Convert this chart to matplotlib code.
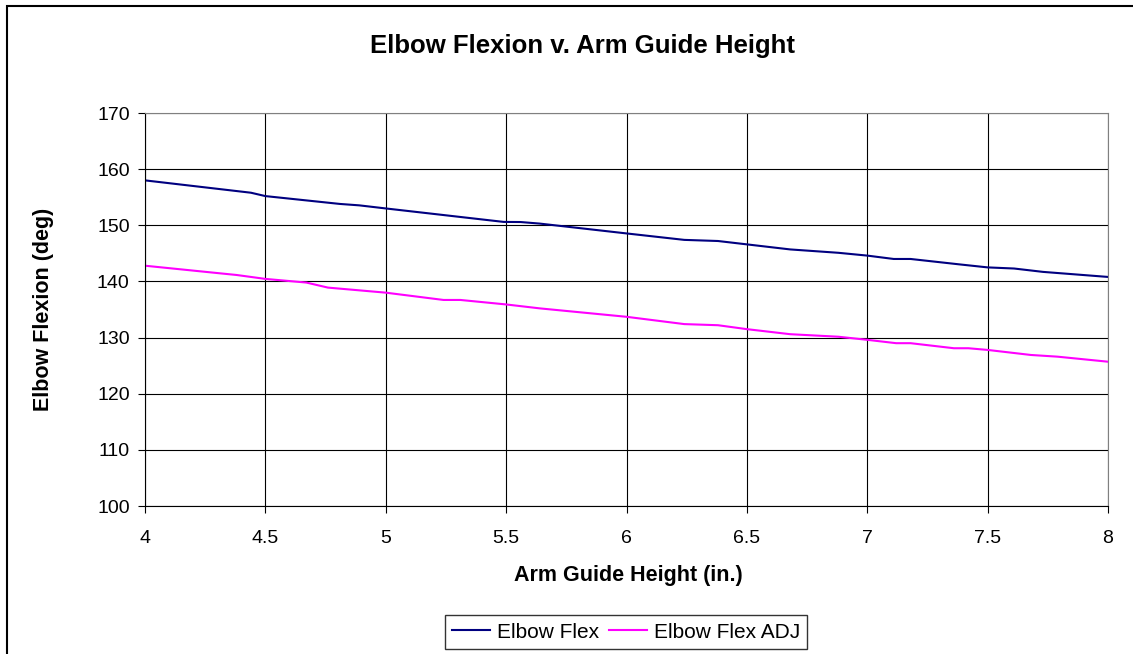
import matplotlib.pyplot as plt
from matplotlib.patches import Rectangle

plt.rcParams['font.family'] = ['Liberation Sans', 'DejaVu Sans']

# Elbow Flex (blue)
flex_x = [4.0, 4.44, 4.5, 4.81, 4.89, 5.0, 5.49, 5.56, 5.64, 6.0, 6.24, 6.38,
          6.5, 6.68, 6.88, 7.0, 7.11, 7.18, 7.38, 7.5, 7.61, 7.73, 8.0]
flex_y = [158.0, 155.8, 155.2, 153.8, 153.55, 153.0, 150.6, 150.58, 150.3, 148.55,
          147.4, 147.2, 146.6, 145.7, 145.1, 144.6, 144.0, 144.0, 143.05, 142.5,
          142.3, 141.7, 140.8]

# Elbow Flex ADJ (magenta)
adj_x = [4.0, 4.31, 4.38, 4.5, 4.67, 4.76, 4.84, 5.0, 5.24, 5.31, 5.5, 5.64,
         6.0, 6.24, 6.38, 6.5, 6.68, 6.88, 7.0, 7.12, 7.18, 7.36, 7.42, 7.5,
         7.68, 7.79, 8.0]
adj_y = [142.8, 141.45, 141.15, 140.45, 139.8, 138.9, 138.6, 138.0, 136.7, 136.7,
         135.9, 135.2, 133.7, 132.4, 132.2, 131.5, 130.6, 130.15, 129.6, 129.0,
         129.0, 128.1, 128.1, 127.8, 126.9, 126.6, 125.7]

xticks = [4, 4.5, 5, 5.5, 6, 6.5, 7, 7.5, 8]
xticklabels = ['4', '4.5', '5', '5.5', '6', '6.5', '7', '7.5', '8']
yticks = [100, 110, 120, 130, 140, 150, 160, 170]

W, H = 1133, 654
fig = plt.figure(figsize=(W / 100, H / 100), dpi=100)
ax = fig.add_axes([145/W, 1 - 506/H, (1108 - 145)/W, (506 - 113)/H])

# outer chart frame (right/bottom edges run off the image)
fig.patches.append(Rectangle((7/W, -0.05), 1.1, 1 - 6/H + 0.05,
                             transform=fig.transFigure, fill=False,
                             edgecolor='black', linewidth=1.5))

ax.plot(flex_x, flex_y, color='#000080', lw=1.5, label='Elbow Flex')
ax.plot(adj_x, adj_y, color='#FF00FF', lw=1.5, label='Elbow Flex ADJ')

ax.set_xlim(4, 8)
ax.set_ylim(100, 170)
ax.set_xticks(xticks)
ax.set_xticklabels(xticklabels)
ax.set_yticks(yticks)
ax.grid(True, color='#000000', lw=0.8)
ax.set_axisbelow(True)
ax.tick_params(direction='out', length=5, width=0.8, labelsize=14)
ax.tick_params(axis='x', pad=12)
ax.tick_params(axis='y', pad=6)
for s in ['top', 'right']:
    ax.spines[s].set_color('#808080')
for s in ['left', 'bottom']:
    ax.spines[s].set_color('#000000')

fig.text(582/W, 1 - 46/H, 'Elbow Flexion v. Arm Guide Height',
         ha='center', va='center', fontsize=18.5, fontweight='bold')
fig.text(628/W, 1 - 576/H, 'Arm Guide Height (in.)',
         ha='center', va='center', fontsize=15.5, fontweight='bold')
fig.text(44/W, 1 - 309/H, 'Elbow Flexion (deg)', rotation=90,
         ha='center', va='center', fontsize=15.5, fontweight='bold')

leg = fig.legend(loc='center', bbox_to_anchor=(626/W, 1 - 632/H), ncol=2,
                 fontsize=15, frameon=True, fancybox=False, edgecolor='black',
                 handlelength=1.8, handletextpad=0.33, columnspacing=0.5,
                 borderpad=0.35)
leg.get_frame().set_linewidth(1.0)

fig.savefig('out.png', dpi=100)
